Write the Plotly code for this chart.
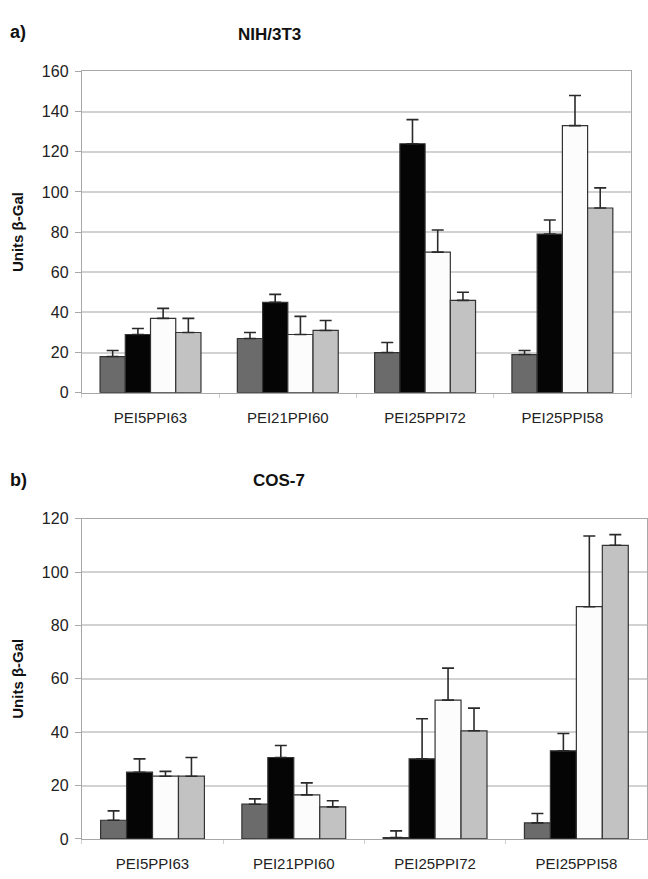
import plotly.graph_objects as go

# Transfection efficiency (units beta-Gal) for four polymer conjugates,
# four formulations each, measured in two cell lines.
categories = ["PEI5PPI63", "PEI21PPI60", "PEI25PPI72", "PEI25PPI58"]
series_names = ["s1", "s2", "s3", "s4"]
series_colors = ["#6b6b6b", "#050505", "#fcfcfc", "#c2c2c2"]

# a) NIH/3T3
nih_values = [
    [18, 27, 20, 19],
    [29, 45, 124, 79],
    [37, 29, 70, 133],
    [30, 31, 46, 92],
]
nih_errors = [
    [3, 3, 5, 2],
    [3, 4, 12, 7],
    [5, 9, 11, 15],
    [7, 5, 4, 10],
]

# b) COS-7
cos_values = [
    [7, 13, 0.5, 6],
    [25, 30.5, 30, 33],
    [23.5, 16.5, 52, 87],
    [23.5, 12, 40.5, 110],
]
cos_errors = [
    [3.5, 2, 2.5, 3.5],
    [5, 4.5, 15, 6.5],
    [1.8, 4.5, 12, 26.5],
    [7, 2.3, 8.5, 4],
]

W, H = 648, 879
FONT = "Liberation Sans, Arial, sans-serif"

fig = go.Figure()

def add_panel(values, errors, xa, ya):
    for i in range(4):
        fig.add_trace(go.Bar(
            x=categories, y=values[i], name=series_names[i],
            xaxis=xa, yaxis=ya, showlegend=False,
            marker=dict(color=series_colors[i],
                        line=dict(color="#333333", width=1.2)),
            error_y=dict(type="data", array=errors[i],
                         arrayminus=[0] * len(errors[i]), symmetric=False,
                         color="#2a2a2a", thickness=1.6, width=6),
        ))

add_panel(nih_values, nih_errors, "x", "y")
add_panel(cos_values, cos_errors, "x2", "y2")

def py(px):
    return 1 - px / H

axis_common = dict(
    showline=True, linecolor="#a8a8a8", linewidth=1.2, mirror=True,
)

xcommon = dict(axis_common, type="category", ticks="outside",
               tickson="boundaries", ticklen=4, tickcolor="#cfcfcf",
               showgrid=False, ticklabelstandoff=11,
               tickfont=dict(family=FONT, size=15, color="#222"))
ycommon = dict(axis_common, ticks="outside", ticklen=6, tickcolor="#a8a8a8",
               showgrid=True, gridcolor="#d2d2d2", gridwidth=1.5,
               zeroline=False, dtick=20, ticklabelstandoff=3,
               tickfont=dict(family=FONT, size=16, color="#222"),
               title=dict(text="<b>Units β-Gal</b>",
                          font=dict(family=FONT, size=15, color="#111"),
                          standoff=14))

fig.update_layout(
    width=W, height=H,
    margin=dict(l=0, r=0, t=0, b=0),
    paper_bgcolor="white", plot_bgcolor="white",
    barmode="group", bargap=0.265, bargroupgap=0,
    font=dict(family=FONT, color="#111"),
    xaxis=dict(xcommon, domain=[82 / W, 632 / W], anchor="y"),
    yaxis=dict(ycommon, domain=[py(392.3), py(64.7)], range=[0, 160],
               anchor="x"),
    xaxis2=dict(xcommon, domain=[82 / W, 1.0], anchor="y2"),
    yaxis2=dict(ycommon, domain=[py(847.3), py(520.7)], range=[0, 120],
                anchor="x2"),
    annotations=[
        dict(text="<b>a)</b>", x=8 / W, y=py(24), xref="paper", yref="paper",
             xanchor="left", yanchor="middle", showarrow=False,
             font=dict(family=FONT, size=18, color="#111")),
        dict(text="<b>NIH/3T3</b>", x=270 / W, y=py(27), xref="paper",
             yref="paper", xanchor="center", yanchor="middle",
             showarrow=False, font=dict(family=FONT, size=17, color="#111")),
        dict(text="<b>b)</b>", x=8 / W, y=py(481), xref="paper", yref="paper",
             xanchor="left", yanchor="middle", showarrow=False,
             font=dict(family=FONT, size=18, color="#111")),
        dict(text="<b>COS-7</b>", x=279 / W, y=py(482), xref="paper",
             yref="paper", xanchor="center", yanchor="middle",
             showarrow=False, font=dict(family=FONT, size=17, color="#111")),
    ],
)

fig.write_html("out.html")
